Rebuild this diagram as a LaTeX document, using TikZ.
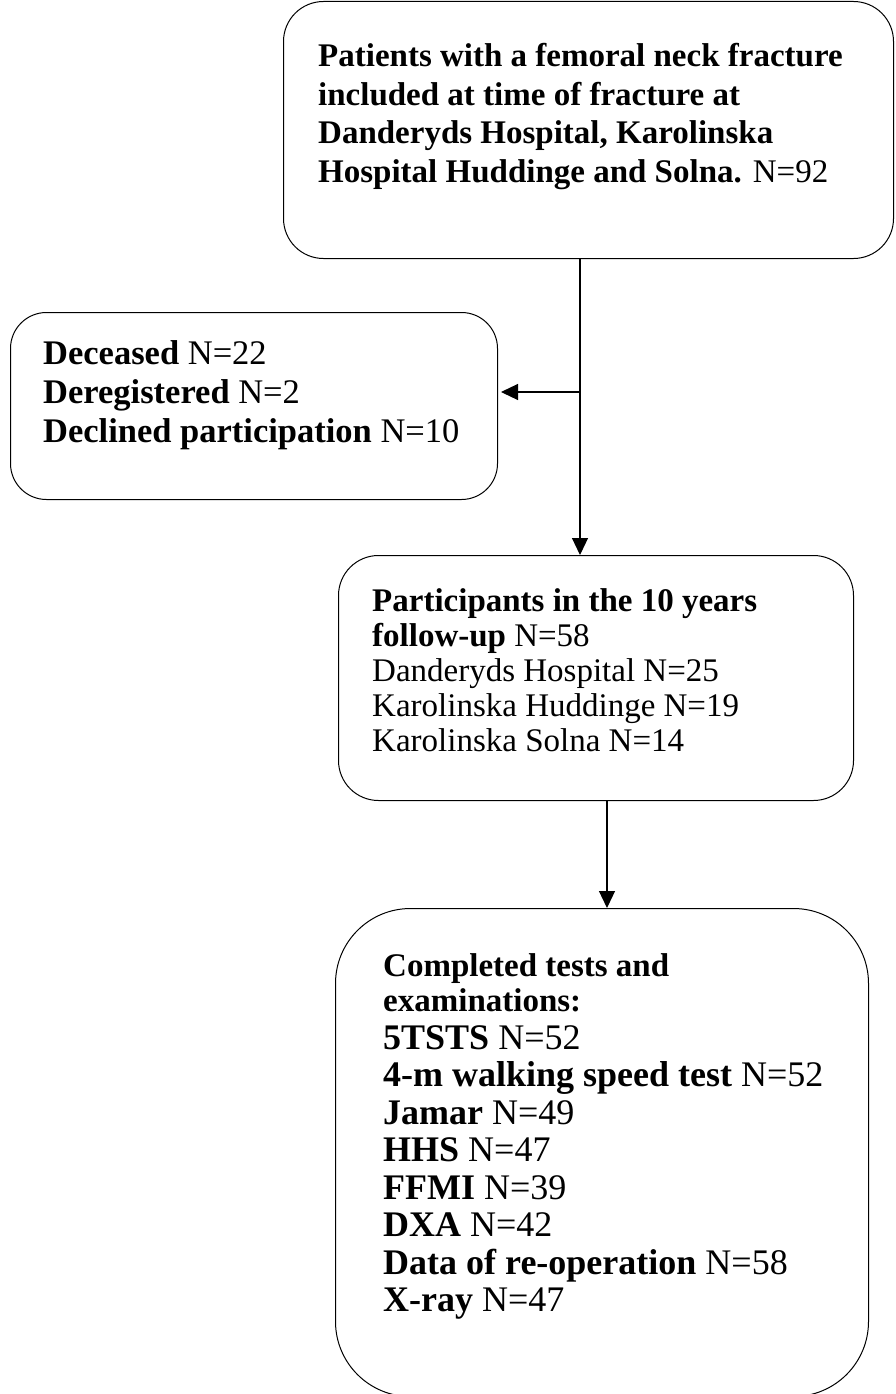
\documentclass[tikz,border=0pt]{standalone}
\usepackage{fontspec}
\setmainfont{Liberation Serif}
\usetikzlibrary{positioning, arrows.meta}

\begin{document}
\begin{tikzpicture}[
  x=1pt, y=1pt,
  box/.style={draw, line width=1pt, inner sep=0pt, anchor=north west},
  txt/.style={inner sep=0pt, align=left},
  arr/.style={-{Triangle[length=17pt, width=16pt]}, line width=1.2pt}
]
\useasboundingbox (0,0) rectangle (895,-1394);

% inclusion
\node[box, rounded corners=40pt, minimum width=610pt, minimum height=257pt] (incl) at (283,-1) {};
\node[txt, below right=42pt and 35pt of incl.north west,
      font=\fontsize{33}{38.7}\selectfont] (incltxt)
  {\textbf{Patients with a femoral neck fracture}\\
   \textbf{included at time of fracture at}\\
   \textbf{Danderyds Hospital, Karolinska}\\
   \textbf{Hospital Huddinge and Solna.} N=92};

% excluded
\node[box, rounded corners=36pt, minimum width=487pt, minimum height=187pt] (excl) at (10,-312) {};
\node[txt, below right=28pt and 33pt of excl.north west,
      font=\fontsize{34.5}{39}\selectfont] (excltxt)
  {\textbf{Deceased} N=22\\
   \textbf{Deregistered} N=2\\
   \textbf{Declined participation} N=10};

% follow-up
\node[box, rounded corners=40pt, minimum width=515pt, minimum height=245pt] (part) at (338,-555) {};
\node[txt, below right=33pt and 34pt of part.north west,
      font=\fontsize{33}{35.2}\selectfont] (parttxt)
  {\textbf{Participants in the 10 years}\\
   \textbf{follow-up} N=58\\
   Danderyds Hospital N=25\\
   Karolinska Huddinge N=19\\
   Karolinska Solna N=14};

% tests
\node[box, rounded corners=75pt, minimum width=533pt, minimum height=488pt] (test) at (335,-908) {};
\node[txt, below right=45pt and 48pt of test.north west,
      font=\fontsize{33}{37.5}\selectfont] (testtxt)
  {\textbf{Completed tests and}\\[-2.5pt]
   \textbf{examinations:}\\[0.5pt]
   \fontsize{36}{37.5}\selectfont\textbf{5TSTS} N=52\\
   \fontsize{36}{37.5}\selectfont\textbf{4-m walking speed test} N=52\\
   \fontsize{36}{37.5}\selectfont\textbf{Jamar} N=49\\
   \fontsize{36}{37.5}\selectfont\textbf{HHS} N=47\\
   \fontsize{36}{37.5}\selectfont\textbf{FFMI} N=39\\
   \fontsize{36}{37.5}\selectfont\textbf{DXA} N=42\\
   \fontsize{36}{37.5}\selectfont\textbf{Data of re-operation} N=58\\
   \fontsize{36}{37.5}\selectfont\textbf{X-ray} N=47};

% connectors
\coordinate (split) at (580,-392);
\coordinate (down) at (607,-850);
\draw[line width=1.2pt] (incl.south -| split) -- (split);
\draw[arr] (split) -- (part.north -| split);
\draw[arr] (split) -- ([xshift=3pt]excl.east |- split);
\draw[arr] (part.south -| down) -- (test.north -| down);
\end{tikzpicture}
\end{document}
